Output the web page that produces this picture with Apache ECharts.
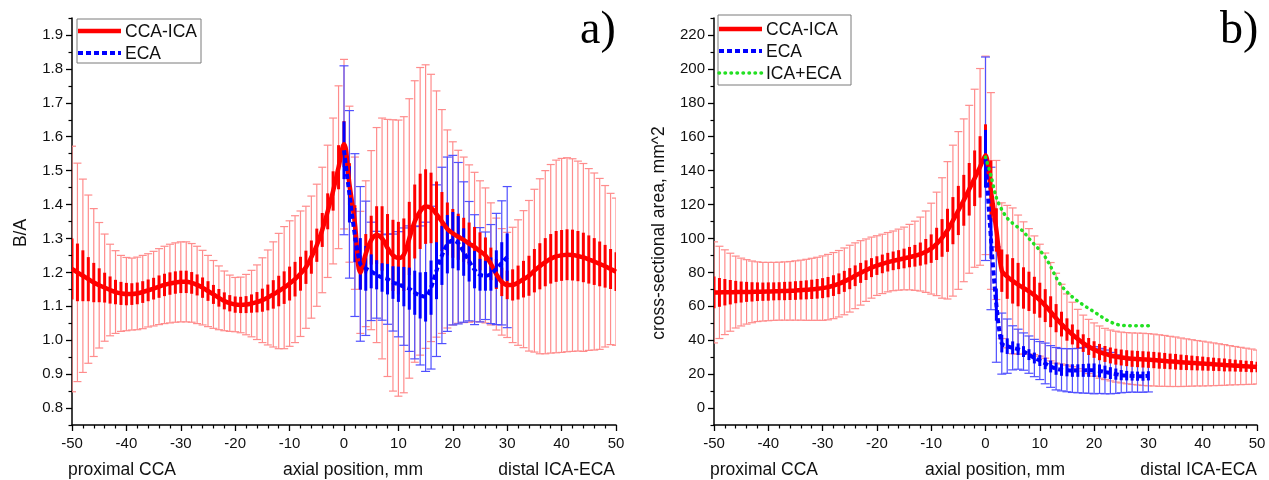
<!DOCTYPE html>
<html>
<head>
<meta charset="utf-8">
<script src="https://cdn.jsdelivr.net/npm/echarts@6/dist/echarts.min.js"></script>
<style>
html,body{margin:0;padding:0;background:#fff;}
#chart{width:1269px;height:480px;}
</style>
</head>
<body>
<div id="chart"></div>
<script>
// ---------- data ----------
// axial positions (mm): full profile -50..50, branch profile 0..30
const POS_START = -50, POS_COUNT = 101, BR_START = 0, BR_COUNT = 31;
const X_TICKS = [-50, -40, -30, -20, -10, 0, 10, 20, 30, 40, 50];
const BA_TICKS = [0.8, 0.9, 1.0, 1.1, 1.2, 1.3, 1.4, 1.5, 1.6, 1.7, 1.8, 1.9];
const BA_MINOR = [0.75, 0.85, 0.95, 1.05, 1.15, 1.25, 1.35, 1.45, 1.55, 1.65, 1.75, 1.85, 1.95];
const AREA_TICKS = [0, 20, 40, 60, 80, 100, 120, 140, 160, 180, 200, 220];
const AREA_MINOR = [-10, 10, 30, 50, 70, 90, 110, 130, 150, 170, 190, 210, 230];

// panel a) B/A, CCA-ICA (mean, SD, SE), -50..50
const baCcaMean = [1.210,1.200,1.190,1.180,1.170,1.162,1.155,1.148,1.142,1.138,1.136,1.136,1.138,1.142,1.147,1.152,1.158,1.163,1.167,1.170,
1.172,1.172,1.169,1.163,1.155,1.145,1.135,1.125,1.116,1.109,1.105,1.104,1.105,1.108,1.112,1.118,1.126,1.135,1.145,1.155,
1.167,1.180,1.196,1.215,1.245,1.280,1.325,1.380,1.440,1.510,1.578,1.460,1.345,1.200,1.255,1.295,1.310,1.300,1.272,1.250,
1.242,1.252,1.300,1.350,1.380,1.394,1.390,1.372,1.350,1.328,1.315,1.305,1.296,1.285,1.275,1.262,1.250,1.225,1.195,1.172,
1.163,1.163,1.170,1.180,1.190,1.205,1.218,1.230,1.240,1.247,1.250,1.252,1.251,1.248,1.244,1.238,1.232,1.225,1.218,1.210,1.202];
const baCcaSD = [0.362,0.322,0.285,0.248,0.218,0.185,0.158,0.135,0.122,0.112,0.108,0.106,0.107,0.108,0.108,0.110,0.112,0.114,0.116,0.117,
0.118,0.118,0.116,0.114,0.110,0.105,0.100,0.094,0.088,0.083,0.080,0.082,0.089,0.098,0.110,0.125,0.140,0.155,0.170,0.180,
0.185,0.187,0.185,0.180,0.180,0.180,0.185,0.195,0.215,0.240,0.250,0.230,0.195,0.180,0.215,0.264,0.317,0.355,0.379,0.400,
0.407,0.407,0.412,0.415,0.424,0.418,0.394,0.363,0.330,0.292,0.270,0.255,0.244,0.232,0.220,0.208,0.199,0.180,0.165,0.157,
0.155,0.170,0.185,0.202,0.222,0.240,0.258,0.270,0.278,0.284,0.286,0.286,0.284,0.280,0.277,0.268,0.261,0.252,0.238,0.223,0.217];
const baCcaSE = [0.090,0.085,0.075,0.065,0.058,0.050,0.044,0.040,0.036,0.034,0.033,0.032,0.032,0.032,0.032,0.032,0.033,0.033,0.033,0.033,
0.033,0.033,0.032,0.031,0.030,0.029,0.028,0.026,0.025,0.024,0.024,0.024,0.025,0.027,0.030,0.034,0.038,0.042,0.045,0.048,
0.050,0.051,0.050,0.049,0.049,0.049,0.050,0.053,0.058,0.065,0.068,0.062,0.053,0.050,0.058,0.072,0.085,0.095,0.100,0.105,
0.107,0.107,0.108,0.109,0.111,0.110,0.104,0.096,0.087,0.078,0.072,0.068,0.065,0.062,0.059,0.056,0.053,0.048,0.044,0.042,
0.042,0.046,0.050,0.054,0.059,0.064,0.068,0.071,0.073,0.075,0.075,0.075,0.075,0.074,0.073,0.071,0.069,0.066,0.063,0.059,0.057];
// panel a) B/A, ECA, 0..30
const baEcaMean = [1.560,1.430,1.310,1.225,1.212,1.203,1.193,1.185,1.180,1.170,1.165,1.158,1.152,1.140,1.132,1.128,1.155,1.205,1.250,1.283,
1.295,1.286,1.260,1.233,1.208,1.193,1.190,1.195,1.210,1.228,1.245];
const baEcaSD = [0.249,0.247,0.240,0.228,0.198,0.145,0.128,0.126,0.133,0.143,0.155,0.173,0.185,0.195,0.205,0.220,0.240,0.253,0.260,0.257,
0.250,0.238,0.207,0.176,0.162,0.139,0.129,0.146,0.164,0.183,0.208];
const baEcaSE = [0.085,0.083,0.080,0.076,0.066,0.050,0.043,0.042,0.045,0.048,0.052,0.058,0.062,0.065,0.068,0.073,0.080,0.084,0.087,0.086,
0.083,0.080,0.070,0.060,0.055,0.047,0.044,0.049,0.055,0.061,0.070];

// panel b) cross-sectional area, CCA-ICA, -50..50
const arCcaMean = [68.2,68.2,68.3,68.3,68.4,68.4,68.5,68.5,68.6,68.6,68.7,68.8,68.9,69.0,69.1,69.3,69.5,69.7,70.0,70.3,
70.7,71.3,72.2,73.3,74.7,76.3,78.0,79.7,81.3,82.8,84.0,85.0,86.0,86.8,87.5,88.2,89.0,89.8,90.8,92.2,
94.0,96.8,100.3,104.8,110.5,116.5,122.5,129.0,135.5,142.2,149.0,128.0,105.0,81.0,77.5,75.0,72.8,70.8,68.8,66.5,
63.6,60.4,56.8,53.0,49.5,46.3,43.4,40.7,38.3,36.3,34.5,33.0,31.9,31.0,30.3,29.8,29.4,29.1,28.9,28.7,
28.5,28.3,28.0,27.8,27.5,27.3,27.0,26.8,26.6,26.4,26.2,26.0,25.8,25.6,25.4,25.2,25.0,24.8,24.6,24.4,24.2];
const arCcaSD = [29.8,27.2,25.0,23.0,21.2,20.0,19.0,18.2,17.6,17.3,17.2,17.1,17.1,17.2,17.3,17.5,17.7,18.0,18.3,18.6,
19.0,19.3,19.5,19.6,19.7,19.7,19.4,19.0,18.4,18.0,17.6,17.5,17.5,17.6,18.0,18.5,19.3,20.4,21.8,24.0,
26.8,30.5,35.5,40.5,44.5,46.5,48.0,49.5,52.5,58.0,58.5,58.0,41.0,40.0,42.0,43.0,41.0,39.0,37.0,35.0,
33.0,31.0,29.0,26.5,23.5,21.0,19.0,17.5,16.5,16.0,15.7,15.4,15.1,15.0,15.0,15.0,15.1,15.2,15.3,15.4,
15.4,15.3,15.2,15.0,14.8,14.6,14.3,14.0,13.7,13.4,13.2,12.9,12.6,12.3,12.0,11.6,11.3,11.0,10.7,10.4,10.0];
const arCcaSE = [9.4,8.5,7.8,7.2,6.6,6.2,5.9,5.7,5.5,5.4,5.4,5.3,5.3,5.4,5.4,5.5,5.5,5.6,5.7,5.8,
5.9,6.0,6.1,6.1,6.2,6.2,6.1,5.9,5.8,5.6,5.5,5.5,5.5,5.5,5.6,5.8,6.0,6.4,6.8,7.5,
8.4,9.5,11.1,12.7,13.9,14.5,15.0,15.5,16.4,18.1,18.3,18.1,12.8,12.5,13.1,13.4,12.8,12.2,11.6,10.9,
10.3,9.7,9.1,8.3,7.3,6.6,5.9,5.5,5.2,5.0,4.9,4.8,4.7,4.7,4.7,4.7,4.7,4.8,4.8,4.8,
4.8,4.8,4.8,4.7,4.6,4.6,4.5,4.4,4.3,4.2,4.1,4.0,3.9,3.8,3.8,3.6,3.5,3.4,3.3,3.3,3.1];
// panel b) ECA and ICA+ECA, 0..30
const arEcaMean = [147,100,61,38,36.5,35.5,34.7,33.3,31.5,29.5,28,26.3,24.5,23.2,22.6,22.3,22.1,22.1,22.2,22.3,
22.3,21.9,21.3,20.6,20.0,19.4,19.1,18.9,18.8,18.8,19.0];
const arEcaSD = [60,42,34,18,16,13,11.8,11,11,11,11.2,12,12.3,12.5,12.5,12.7,12.9,13.1,13.4,13.6,
13.9,13.3,12.9,12.2,11.4,10.4,9.9,9.5,9.5,9.5,9.5];
const arEcaSE = [17,12,9.5,5.2,4.6,3.8,3.4,3.2,3.2,3.2,3.2,3.4,3.5,3.6,3.6,3.6,3.7,3.7,3.8,3.9,
4.0,3.8,3.7,3.5,3.3,3.0,2.8,2.7,2.7,2.7,2.7];
const arSumMean = [148,137,124,117,112,109,106.5,104,100,96.5,93,89,83.5,77,72,68.5,65.5,63,60.8,58.7,
56.7,54.6,52.5,50.8,49.5,48.8,48.6,48.5,48.5,48.5,48.5];

// ---------- build ----------
const posAll = Array.from({length: POS_COUNT}, (_, i) => POS_START + i);
const posBr = Array.from({length: BR_COUNT}, (_, i) => BR_START + i);

const FONT = '"Liberation Sans", Arial, sans-serif';
const C = {
  redThin: '#ff8c8c', red: '#ff0000', blueThin: '#5050ff', blue: '#0000ff', green: '#22e022'
};
const DASH_BLUE = [5, 3];
const DOT_GREEN = [0.5, 5.5];

function errBars(xi, yi, xs, mean, err, color, width, cap, z) {
  return {
    type: 'custom', xAxisIndex: xi, yAxisIndex: yi, z: z, clip: true, silent: true,
    data: xs.map((x, i) => [x, mean[i], err[i]]),
    encode: {x: 0, y: 1},
    renderItem: function (params, api) {
      const x = api.value(0), m = api.value(1), e = api.value(2);
      const t = api.coord([x, m + e]), b = api.coord([x, m - e]);
      const st = {stroke: color, lineWidth: width};
      const ch = [{type: 'line', shape: {x1: t[0], y1: t[1], x2: b[0], y2: b[1]}, style: st}];
      if (cap) {
        ch.push({type: 'line', shape: {x1: t[0] - cap, y1: t[1], x2: t[0] + cap, y2: t[1]}, style: st});
        ch.push({type: 'line', shape: {x1: b[0] - cap, y1: b[1], x2: b[0] + cap, y2: b[1]}, style: st});
      }
      return {type: 'group', children: ch};
    }
  };
}
function meanLine(xi, yi, xs, vals, color, width, dash, cap, z, smooth) {
  return {
    type: 'line', xAxisIndex: xi, yAxisIndex: yi, z: z, silent: true,
    data: xs.map((x, i) => [x, vals[i]]),
    showSymbol: false, symbol: 'none', smooth: smooth, clip: true,
    lineStyle: {color: color, width: width, type: dash, cap: cap}
  };
}

function xAxis(grid) {
  return {
    type: 'value', gridIndex: grid, min: -50, max: 50, interval: 10,
    axisLine: {onZero: false, lineStyle: {color: '#000', width: 1.5}},
    axisTick: {show: true, inside: false, length: 6, lineStyle: {color: '#000', width: 1.3}},
    minorTick: {show: true, splitNumber: 5, length: 3.5, lineStyle: {color: '#000', width: 1.2}},
    splitLine: {show: false}, minorSplitLine: {show: false},
    axisLabel: {color: '#111', fontSize: 15, fontFamily: FONT, margin: 11,
      customValues: X_TICKS}
  };
}
function yAxisMajor(grid, min, max, ticks, fmt) {
  return {
    type: 'value', gridIndex: grid, min: min, max: max,
    axisLine: {show: true, onZero: false, lineStyle: {color: '#000', width: 1.5}},
    axisTick: {show: true, inside: false, length: 6, customValues: ticks, lineStyle: {color: '#000', width: 1.3}},
    splitLine: {show: false},
    axisLabel: {color: '#111', fontSize: 15, fontFamily: FONT, margin: 9, customValues: ticks, formatter: fmt}
  };
}
function yAxisMinor(grid, min, max, ticks) {
  return {
    type: 'value', gridIndex: grid, min: min, max: max, position: 'left',
    axisLine: {show: false, onZero: false},
    axisTick: {show: true, inside: false, length: 3.5, customValues: ticks, lineStyle: {color: '#000', width: 1.2}},
    splitLine: {show: false},
    axisLabel: {show: false}
  };
}

const series = [
  // panel a
  errBars(0, 0, posAll, baCcaMean, baCcaSD, C.redThin, 1.2, 4, 1),
  errBars(0, 0, posBr, baEcaMean, baEcaSD, C.blueThin, 1.2, 4.5, 2),
  errBars(0, 0, posAll, baCcaMean, baCcaSE, C.red, 3, 0, 3),
  errBars(0, 0, posBr, baEcaMean, baEcaSE, C.blue, 3, 0, 4),
  meanLine(0, 0, posAll, baCcaMean, C.red, 4.5, 'solid', 'butt', 5, 0.4),
  meanLine(0, 0, posBr, baEcaMean, C.blue, 4, DASH_BLUE, 'butt', 6, 0.3),
  // panel b
  errBars(1, 2, posAll, arCcaMean, arCcaSD, C.redThin, 1.2, 4, 1),
  errBars(1, 2, posBr, arEcaMean, arEcaSD, C.blueThin, 1.2, 4.5, 2),
  errBars(1, 2, posAll, arCcaMean, arCcaSE, C.red, 3, 0, 3),
  errBars(1, 2, posBr, arEcaMean, arEcaSE, C.blue, 3, 0, 4),
  meanLine(1, 2, posAll, arCcaMean, C.red, 4.5, 'solid', 'butt', 5, 0.3),
  meanLine(1, 2, posBr, arEcaMean, C.blue, 4, DASH_BLUE, 'butt', 6, 0.3),
  meanLine(1, 2, posBr, arSumMean, C.green, 3.5, DOT_GREEN, 'round', 7, 0.3)
];

function legendBox(x, y, w, h, rows) {
  const els = [{type: 'rect', shape: {x: x, y: y, width: w, height: h},
    style: {fill: '#fff', stroke: '#7a7a7a', lineWidth: 1}, z: 100}];
  rows.forEach(r => {
    els.push({type: 'line', shape: {x1: x + 1, y1: r.y, x2: x + 44, y2: r.y},
      style: {stroke: r.color, lineWidth: r.width, lineDash: r.dash, lineCap: r.cap}, z: 101});
    els.push({type: 'text', x: x + 48, y: r.y + 1,
      style: {text: r.label, fill: '#111', font: '17.5px ' + FONT, textAlign: 'left', textVerticalAlign: 'middle'}, z: 101});
  });
  return els;
}

const graphics = [].concat(
  legendBox(77, 19, 124, 44, [
    {y: 31, color: C.red, width: 4.5, dash: null, cap: 'butt', label: 'CCA-ICA'},
    {y: 53, color: C.blue, width: 4, dash: DASH_BLUE, cap: 'butt', label: 'ECA'}
  ]),
  legendBox(718, 15, 133, 70, [
    {y: 29, color: C.red, width: 4.5, dash: null, cap: 'butt', label: 'CCA-ICA'},
    {y: 51, color: C.blue, width: 4, dash: DASH_BLUE, cap: 'butt', label: 'ECA'},
    {y: 73, color: C.green, width: 3.5, dash: DOT_GREEN, cap: 'round', label: 'ICA+ECA'}
  ]),
  [
    {type: 'text', x: 580, y: 31, style: {text: 'a)', fill: '#000', font: '46px "Liberation Serif", "Times New Roman", serif', textAlign: 'left', textVerticalAlign: 'middle'}},
    {type: 'text', x: 1220, y: 31, style: {text: 'b)', fill: '#000', font: '46px "Liberation Serif", "Times New Roman", serif', textAlign: 'left', textVerticalAlign: 'middle'}},
    {type: 'text', x: 21, y: 233, rotation: Math.PI / 2, style: {text: 'B/A', fill: '#111', font: '17.5px ' + FONT, textAlign: 'center', textVerticalAlign: 'middle'}},
    {type: 'text', x: 659, y: 233, rotation: Math.PI / 2, style: {text: 'cross-sectional area, mm^2', fill: '#111', font: '17.5px ' + FONT, textAlign: 'center', textVerticalAlign: 'middle'}},
    {type: 'text', x: 68, y: 470, style: {text: 'proximal CCA', fill: '#111', font: '17.5px ' + FONT, textAlign: 'left', textVerticalAlign: 'middle'}},
    {type: 'text', x: 353, y: 470, style: {text: 'axial position, mm', fill: '#111', font: '17.5px ' + FONT, textAlign: 'center', textVerticalAlign: 'middle'}},
    {type: 'text', x: 615, y: 470, style: {text: 'distal ICA-ECA', fill: '#111', font: '17.5px ' + FONT, textAlign: 'right', textVerticalAlign: 'middle'}},
    {type: 'text', x: 710, y: 470, style: {text: 'proximal CCA', fill: '#111', font: '17.5px ' + FONT, textAlign: 'left', textVerticalAlign: 'middle'}},
    {type: 'text', x: 995, y: 470, style: {text: 'axial position, mm', fill: '#111', font: '17.5px ' + FONT, textAlign: 'center', textVerticalAlign: 'middle'}},
    {type: 'text', x: 1257, y: 470, style: {text: 'distal ICA-ECA', fill: '#111', font: '17.5px ' + FONT, textAlign: 'right', textVerticalAlign: 'middle'}}
  ]
);

const chart = echarts.init(document.getElementById('chart'), null, {renderer: 'canvas'});
chart.setOption({
  animation: false,
  backgroundColor: '#fff',
  grid: [
    {left: 72, top: 18, width: 544, height: 407, containLabel: false, outerBoundsMode: 'none'},
    {left: 714, top: 18, width: 543, height: 407, containLabel: false, outerBoundsMode: 'none'}
  ],
  xAxis: [xAxis(0), xAxis(1)],
  yAxis: [
    yAxisMajor(0, 0.75, 1.95, BA_TICKS, v => v.toFixed(1)),
    yAxisMinor(0, 0.75, 1.95, BA_MINOR),
    yAxisMajor(1, -10, 230, AREA_TICKS, v => String(Math.round(v))),
    yAxisMinor(1, -10, 230, AREA_MINOR)
  ],
  series: series,
  graphic: graphics
});
</script>
</body>
</html>
